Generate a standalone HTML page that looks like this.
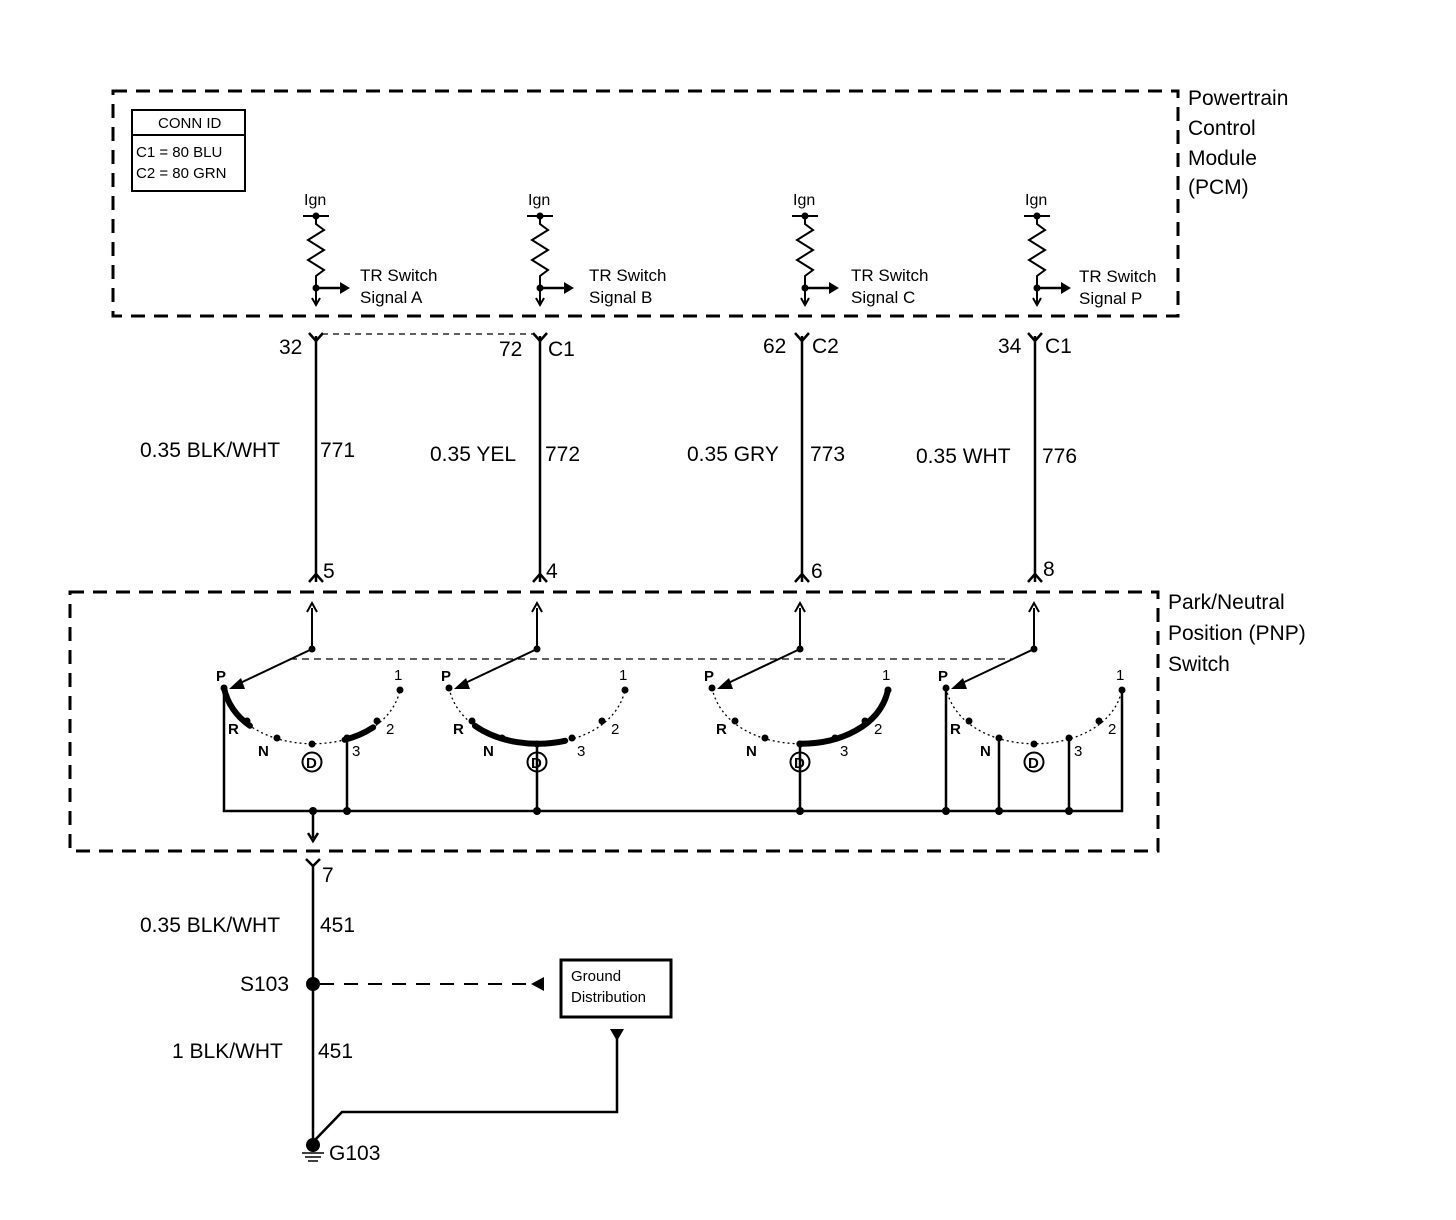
<!DOCTYPE html>
<html><head><meta charset="utf-8"><style>
html,body{margin:0;padding:0;background:#fff}
svg{display:block}
text{font-family:"Liberation Sans",Arial,sans-serif;fill:#000}
</style></head><body>
<svg width="1456" height="1220" viewBox="0 0 1456 1220" xmlns="http://www.w3.org/2000/svg">
<defs>
<g id="res">
  <text x="-12" y="205" font-size="16">Ign</text>
  <line x1="-13" y1="216" x2="13" y2="216" stroke="#000" stroke-width="2"/>
  <circle cx="0" cy="216" r="3.5"/>
  <path d="M0,216 V224 L8,230 L-8,240 L8,250 L-8,260 L8,270 L0,276 V304" fill="none" stroke="#000" stroke-width="2"/>
  <circle cx="0" cy="288" r="3.5"/>
  <line x1="0" y1="288" x2="24" y2="288" stroke="#000" stroke-width="2.5"/>
  <path d="M24,282 L34,288 L24,294 Z"/>
  <path d="M-4,298 L0,305 L4,298" fill="none" stroke="#000" stroke-width="2"/>
</g>
<path id="arc" d="M224,688 C240,762 384,762 400,690"/>
<g id="sw">
  <use href="#arc" fill="none" stroke="#000" stroke-width="1.3" stroke-dasharray="2,3"/>
  <line x1="312" y1="649" x2="312" y2="608" stroke="#000" stroke-width="2"/>
  <path d="M307,612 L312,603 L317,612" fill="none" stroke="#000" stroke-width="2"/>
  <circle cx="312" cy="649" r="3.5"/>
  <line x1="312" y1="649" x2="236" y2="685" stroke="#000" stroke-width="2"/>
  <path d="M229,689 L241,678 L245,689 Z"/>
  <circle cx="224" cy="688" r="3.5"/><circle cx="247" cy="721" r="3.5"/><circle cx="277" cy="738" r="3.5"/>
  <circle cx="312" cy="744" r="3.5"/><circle cx="347" cy="738" r="3.5"/><circle cx="377" cy="721" r="3.5"/><circle cx="400" cy="690" r="3.5"/>
  <text x="216" y="681" font-size="15" font-weight="bold">P</text>
  <text x="228" y="734" font-size="15" font-weight="bold">R</text>
  <text x="258" y="756" font-size="15" font-weight="bold">N</text>
  <circle cx="312" cy="762" r="9.5" fill="none" stroke="#000" stroke-width="2"/>
  <text x="306" y="768" font-size="15" font-weight="bold">D</text>
  <text x="352" y="756" font-size="15">3</text>
  <text x="386" y="734" font-size="15">2</text>
  <text x="394" y="680" font-size="15">1</text>
</g>
</defs>

<rect x="113" y="91" width="1065" height="225" fill="none" stroke="#000" stroke-width="3" stroke-dasharray="14,9"/>
<text x="1188" y="105" font-size="21">Powertrain</text>
<text x="1188" y="135" font-size="21">Control</text>
<text x="1188" y="165" font-size="21">Module</text>
<text x="1188" y="194" font-size="21">(PCM)</text>
<rect x="132" y="110" width="113" height="81" fill="none" stroke="#000" stroke-width="2"/>
<line x1="132" y1="135" x2="245" y2="135" stroke="#000" stroke-width="2"/>
<text x="158" y="128" font-size="15">CONN ID</text>
<text x="136" y="157" font-size="15">C1 = 80 BLU</text>
<text x="136" y="178" font-size="15">C2 = 80 GRN</text>

<use href="#res" transform="translate(316,0)"/>
<text x="360" y="281" font-size="17">TR Switch</text><text x="360" y="303" font-size="17">Signal A</text>
<use href="#res" transform="translate(540,0)"/>
<text x="589" y="281" font-size="17">TR Switch</text><text x="589" y="303" font-size="17">Signal B</text>
<use href="#res" transform="translate(805,0)"/>
<text x="851" y="281" font-size="17">TR Switch</text><text x="851" y="303" font-size="17">Signal C</text>
<use href="#res" transform="translate(1037,0)"/>
<text x="1079" y="282" font-size="17">TR Switch</text><text x="1079" y="304" font-size="17">Signal P</text>

<g stroke="#000" stroke-width="2.5" fill="none">
<line x1="316" y1="336" x2="316" y2="582"/>
<line x1="540" y1="336" x2="540" y2="582"/>
<line x1="802" y1="336" x2="802" y2="582"/>
<line x1="1035" y1="336" x2="1035" y2="582"/>
<path d="M309,333 L316,341 L323,333"/>
<path d="M533,333 L540,341 L547,333"/>
<path d="M795,333 L802,341 L809,333"/>
<path d="M1028,333 L1035,341 L1042,333"/>
<path d="M309,582 L316,574 L323,582"/>
<path d="M533,582 L540,574 L547,582"/>
<path d="M795,582 L802,574 L809,582"/>
<path d="M1028,582 L1035,574 L1042,582"/>
</g>
<line x1="322" y1="334" x2="534" y2="334" stroke="#000" stroke-width="1.3" stroke-dasharray="6,5"/>
<text x="279" y="354" font-size="21">32</text>
<text x="499" y="356" font-size="21">72</text><text x="548" y="356" font-size="21">C1</text>
<text x="763" y="353" font-size="21">62</text><text x="812" y="353" font-size="21">C2</text>
<text x="998" y="353" font-size="21">34</text><text x="1045" y="353" font-size="21">C1</text>
<text x="140" y="457" font-size="21">0.35 BLK/WHT</text><text x="320" y="457" font-size="21">771</text>
<text x="430" y="461" font-size="21">0.35 YEL</text><text x="545" y="461" font-size="21">772</text>
<text x="687" y="461" font-size="21">0.35 GRY</text><text x="810" y="461" font-size="21">773</text>
<text x="916" y="463" font-size="21">0.35 WHT</text><text x="1042" y="463" font-size="21">776</text>
<text x="323" y="578" font-size="21">5</text>
<text x="546" y="578" font-size="21">4</text>
<text x="811" y="578" font-size="21">6</text>
<text x="1043" y="576" font-size="21">8</text>

<rect x="70" y="592" width="1088" height="259" fill="none" stroke="#000" stroke-width="3" stroke-dasharray="14,9"/>
<text x="1168" y="609" font-size="21">Park/Neutral</text>
<text x="1168" y="640" font-size="21">Position (PNP)</text>
<text x="1168" y="671" font-size="21">Switch</text>

<line x1="290" y1="659" x2="1012" y2="659" stroke="#000" stroke-width="1.3" stroke-dasharray="7,5"/>

<use href="#sw"/>
<use href="#sw" transform="translate(225,0)"/>
<use href="#sw" transform="translate(488,0)"/>
<use href="#sw" transform="translate(722,0)"/>

<g stroke="#000" stroke-width="6" fill="none" stroke-linecap="round">
<path d="M224,688 C240,762 384,762 400,690" pathLength="100" stroke-dasharray="21 200"/>
<path d="M224,688 C240,762 384,762 400,690" pathLength="100" stroke-dasharray="0 65 14 200"/>
<path transform="translate(225,0)" d="M224,688 C240,762 384,762 400,690" pathLength="100" stroke-dasharray="0 21 42 200"/>
<path transform="translate(488,0)" d="M224,688 C240,762 384,762 400,690" pathLength="100" stroke-dasharray="0 50 50 200"/>
</g>

<g stroke="#000" stroke-width="2.5" fill="none">
<path d="M224,688 V811 H1122 V690"/>
<line x1="347" y1="738" x2="347" y2="811"/>
<line x1="537" y1="744" x2="537" y2="811"/>
<line x1="800" y1="744" x2="800" y2="811"/>
<line x1="946" y1="688" x2="946" y2="811"/>
<line x1="999" y1="738" x2="999" y2="811"/>
<line x1="1069" y1="738" x2="1069" y2="811"/>
<line x1="313" y1="811" x2="313" y2="838"/>
<path d="M308,833 L313,841 L318,833"/>
</g>
<g>
<circle cx="313" cy="811" r="4"/><circle cx="347" cy="811" r="4"/><circle cx="537" cy="811" r="4"/>
<circle cx="800" cy="811" r="4"/><circle cx="946" cy="811" r="4"/><circle cx="999" cy="811" r="4"/><circle cx="1069" cy="811" r="4"/>
</g>

<g stroke="#000" stroke-width="2.5" fill="none">
<path d="M306,859 L313,866 L320,859"/>
<line x1="313" y1="864" x2="313" y2="1145"/>
<path d="M617,1035 V1112 H342 L313,1142"/>
</g>
<text x="322" y="882" font-size="21">7</text>
<text x="140" y="932" font-size="21">0.35 BLK/WHT</text><text x="320" y="932" font-size="21">451</text>
<text x="240" y="991" font-size="21">S103</text>
<circle cx="313" cy="984" r="7"/>
<line x1="320" y1="984" x2="530" y2="984" stroke="#000" stroke-width="2" stroke-dasharray="14,10"/>
<path d="M531,984 L544,977 L544,991 Z"/>
<rect x="561" y="960" width="110" height="57" fill="none" stroke="#000" stroke-width="3"/>
<text x="571" y="981" font-size="15">Ground</text>
<text x="571" y="1002" font-size="15">Distribution</text>
<path d="M610,1029 L624,1029 L617,1041 Z"/>
<text x="172" y="1058" font-size="21">1 BLK/WHT</text><text x="318" y="1058" font-size="21">451</text>
<circle cx="313" cy="1145" r="7"/>
<g stroke="#000" stroke-width="1.5"><line x1="302" y1="1153" x2="324" y2="1153"/><line x1="305" y1="1157" x2="321" y2="1157"/><line x1="308" y1="1161" x2="318" y2="1161"/></g>
<text x="329" y="1160" font-size="21">G103</text>
</svg>
</body></html>
